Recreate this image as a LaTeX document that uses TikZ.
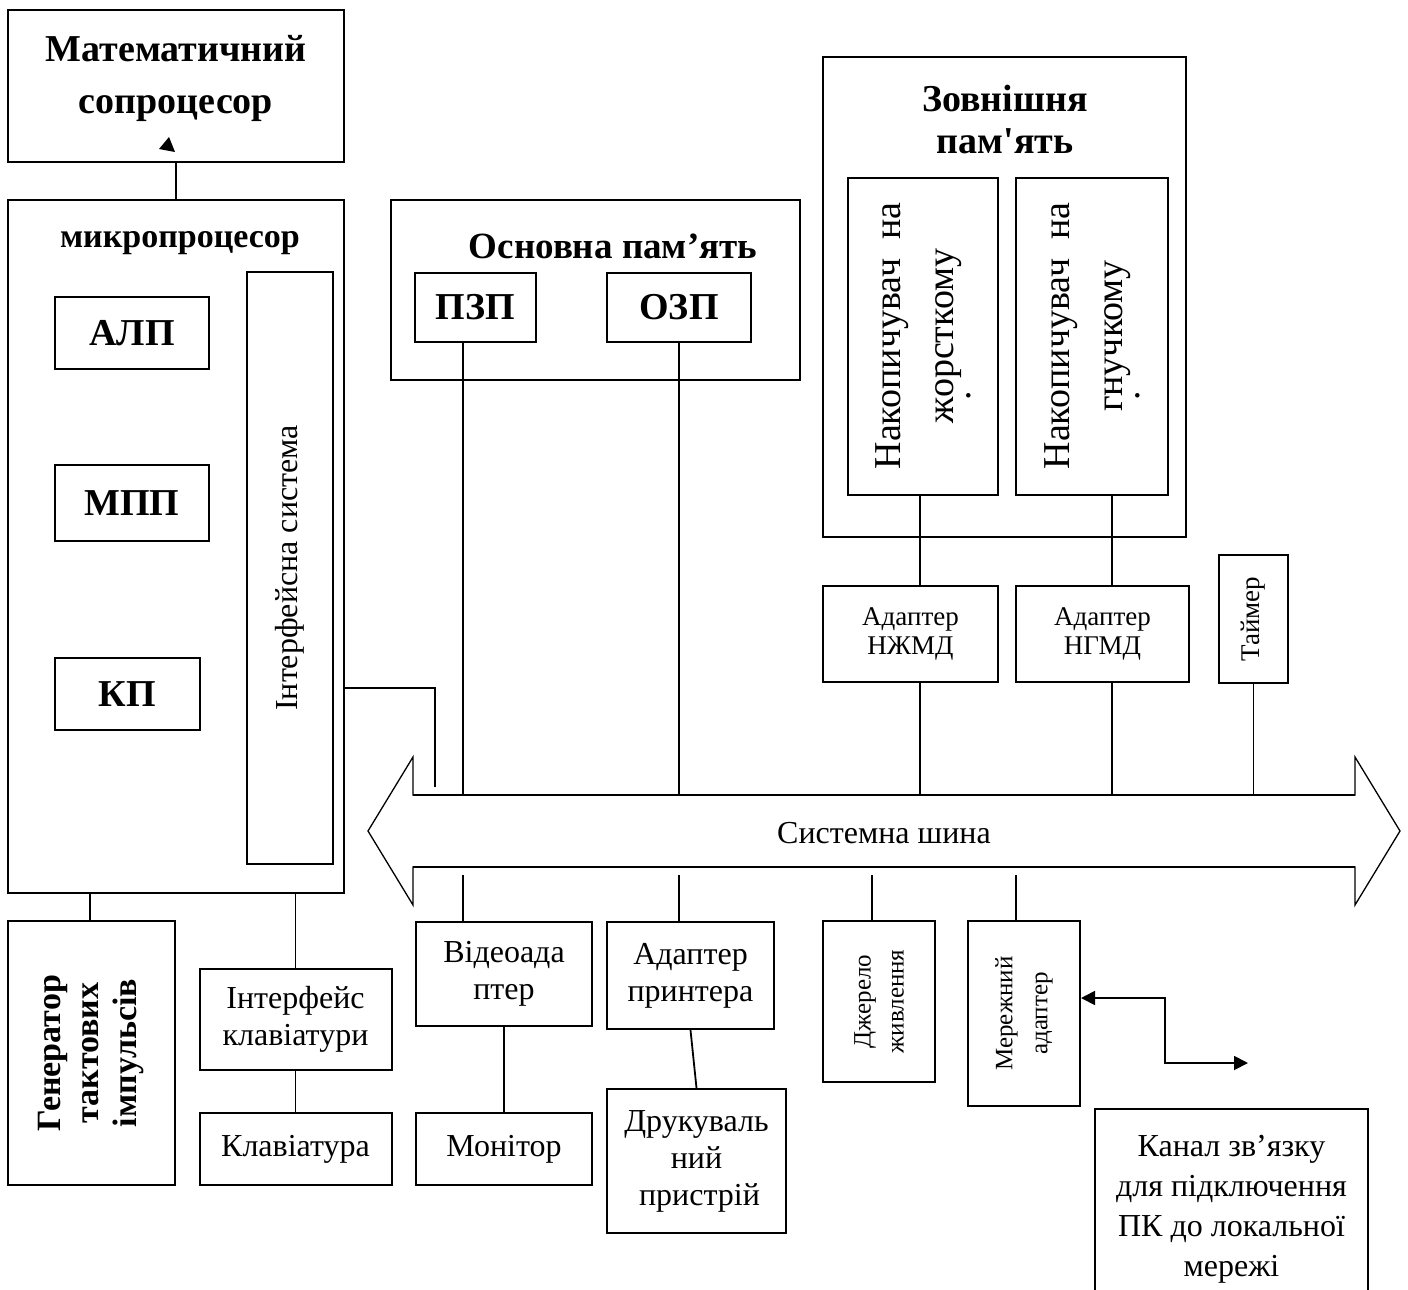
\documentclass[tikz,border=0pt]{standalone}
\usepackage{fontspec}
\setmainfont{Liberation Serif}
\newfontfamily\apostfont{Liberation Serif}
\usetikzlibrary{arrows.meta}

\newcommand{\fz}[2]{\fontsize{#1}{#2}\selectfont}
\newcommand{\sq}{{\apostfont'}}

\begin{document}
\begin{tikzpicture}[x=1pt,y=-1pt,
    box/.style={draw, line width=2pt, inner sep=0pt, align=center},
    wire/.style={line width=1.8pt},
    tipped/.style={{Triangle[length=14pt,width=14pt]}-{Triangle[length=14pt,width=14pt]}}]
  \useasboundingbox (0,0) rectangle (1408,1290);

  % processor
  \node[box, minimum width=336, minimum height=152] (copro) at (176,86) {};
  \node[font=\fz{38}{52}\bfseries, align=center] (coprotxt) at (176,78) {Математичний\\сопроцесор};
  \node[box, minimum width=336, minimum height=693] (micro) at (176,546.5) {};
  \node[font=\fz{34}{40}\bfseries] (microtxt) at (180,243) {микропроцесор};
  \node[box, font=\fz{38}{44}\bfseries, minimum width=154, minimum height=72] (alu) at (132,333) {АЛП};
  \node[box, font=\fz{38}{44}\bfseries, minimum width=154, minimum height=76] (mpp) at (132,503) {МПП};
  \node[box, font=\fz{38}{44}\bfseries, minimum width=145, minimum height=72] (kp) at (127.5,694) {КП};
  \node[box, rotate=90, font=\fz{32}{38}, minimum width=592, minimum height=86] (ifsys) at (290,568) {Інтерфейсна система};

  \draw[wire] (micro.north) -- (copro.south);
  \fill (169,137) -- (159,149) -- (175,152) -- cycle;

  % memory
  \node[box, minimum width=409, minimum height=180] (mainmem) at (595.5,290) {};
  \node[font=\fz{37}{44}\bfseries] (mainmemtxt) at (613,246) {Основна пам’ять};
  \node[box, font=\fz{38}{44}\bfseries, minimum width=121, minimum height=69] (pzp) at (475.5,307) {ПЗП};
  \node[box, font=\fz{38}{44}\bfseries, minimum width=144, minimum height=69] (ozp) at (679,307) {ОЗП};
  \coordinate (pzptap) at ([xshift=-12.5pt]pzp.south);

  \node[box, minimum width=363, minimum height=480] (extmem) at (1004.5,297) {};
  \node[font=\fz{38}{42}\bfseries, align=center] (extmemtxt) at (1005,120) {Зовнішня\\пам\sq ять};
  \node[box, rotate=90, font=\fz{38}{53}, minimum width=317, minimum height=150] (hdd) at (923,336)
    {Накопичувач\ \ на\\жорсткому\\[-36pt].\hspace*{120pt}};
  \node[box, rotate=90, font=\fz{38}{53}, minimum width=317, minimum height=152] (fdd) at (1092,336)
    {Накопичувач\ \ на\\гнучкому\\[-36pt].\hspace*{120pt}};

  \node[box, font=\fz{27}{29}, minimum width=175, minimum height=96] (hddad) at (910.5,633.5) {Адаптер\\НЖМД};
  \node[box, font=\fz{27}{29}, minimum width=173, minimum height=96] (fddad) at (1102.5,633.5) {Адаптер\\НГМД};
  \node[box, rotate=90, font=\fz{27}{30}, minimum width=128, minimum height=69] (timer) at (1253.5,619) {Таймер};

  % system bus
  \draw[line width=1.3pt] (413,795) -- (1355,795) -- (1355,757) -- (1400,831) -- (1355,905)
    -- (1355,867) -- (413,867) -- (413,905) -- (368,831) -- (413,757) -- cycle;
  \draw[line width=2.6pt] (413,795) -- (1355,795) (413,867) -- (1355,867);
  \node[font=\fz{32}{38}] (bus) at (884,833) {Системна шина};
  \coordinate (bustop) at (0,795);
  \coordinate (busbot) at (0,875);
  \coordinate (ifend) at (435,787);

  \draw[wire] ([yshift=-141.5pt]micro.east) -| (ifend);
  \draw[wire] (pzptap) -- (pzptap |- bustop);
  \draw[wire] (ozp.south) -- (ozp.south |- bustop);
  \draw[wire] ([xshift=-3pt]hdd.west) -- ([xshift=-3pt]hdd.west |- hddad.north);
  \draw[wire] ([xshift=9.5pt]hddad.south) -- ([xshift=9.5pt]hddad.south |- bustop);
  \draw[wire] ([xshift=20pt]fdd.west) -- ([xshift=20pt]fdd.west |- fddad.north);
  \draw[wire] ([xshift=9.5pt]fddad.south) -- ([xshift=9.5pt]fddad.south |- bustop);
  \draw[wire] (timer.west) -- (timer.west |- bustop);

  % devices below the bus
  \node[box, rotate=90, font=\fz{34}{38}\bfseries, minimum width=264, minimum height=167] (genr) at (91.5,1053)
    {Генератор\\тактових\\імпульсів};
  \node[box, font=\fz{32}{37}, minimum width=192, minimum height=101] (kbif) at (295.5,1019.5) {Інтерфейс\\клавіатури};
  \node[box, font=\fz{32}{37}, minimum width=192, minimum height=72] (kb) at (295.5,1149) {Клавіатура};
  \node[box, font=\fz{32}{37}, minimum width=176, minimum height=104] (video) at (504,973.5) {Відеоада\\птер};
  \node[box, font=\fz{32}{37}, minimum width=176, minimum height=72] (monitor) at (504,1149) {Монітор};
  \node[box, font=\fz{32}{37}, minimum width=167, minimum height=107] (prad) at (690.5,975.5) {Адаптер\\принтера};
  \node[box, font=\fz{32}{37}, minimum width=179, minimum height=144] (printer) at (696.5,1161)
    {Друкуваль\\ний\\\hspace*{6pt}пристрій};
  \node[box, rotate=90, font=\fz{25}{33}, minimum width=161, minimum height=112] (power) at (879,1001.5) {Джерело\\живлення};
  \node[box, rotate=90, font=\fz{25}{35}, minimum width=185, minimum height=112] (netad) at (1024,1013.5) {Мережний\\адаптер};
  \node[box, font=\fz{32}{40}, minimum width=273, minimum height=200] (chan) at (1231.5,1209)
    {Канал зв’язку\\для підключення\\ПК до локальної\\мережі};

  \coordinate (pwtap) at (872,875);
  \coordinate (nettap) at (1016,875);
  \coordinate (jog) at (1165,1063);
  \coordinate (lan) at (1248,1063);

  \draw[wire] ([xshift=-1.5pt]genr.east) -- ([xshift=-1.5pt]genr.east |- micro.south);
  \draw[wire] (kbif.north |- micro.south) -- (kbif.north);
  \draw[wire] (kbif.south) -- (kb.north);
  \draw[wire] (pzptap |- busbot) -- (pzptap |- video.north);
  \draw[wire] (video.south) -- (monitor.north);
  \draw[wire] (ozp.south |- busbot) -- (ozp.south |- prad.north);
  \draw[wire] (prad.south) -- (printer.north);
  \draw[wire] (pwtap) -- (pwtap |- power.east);
  \draw[wire] (nettap) -- (nettap |- netad.east);
  \draw[wire, tipped] ([yshift=15.5pt]netad.south) -| (jog) -- (lan);
\end{tikzpicture}
\end{document}
